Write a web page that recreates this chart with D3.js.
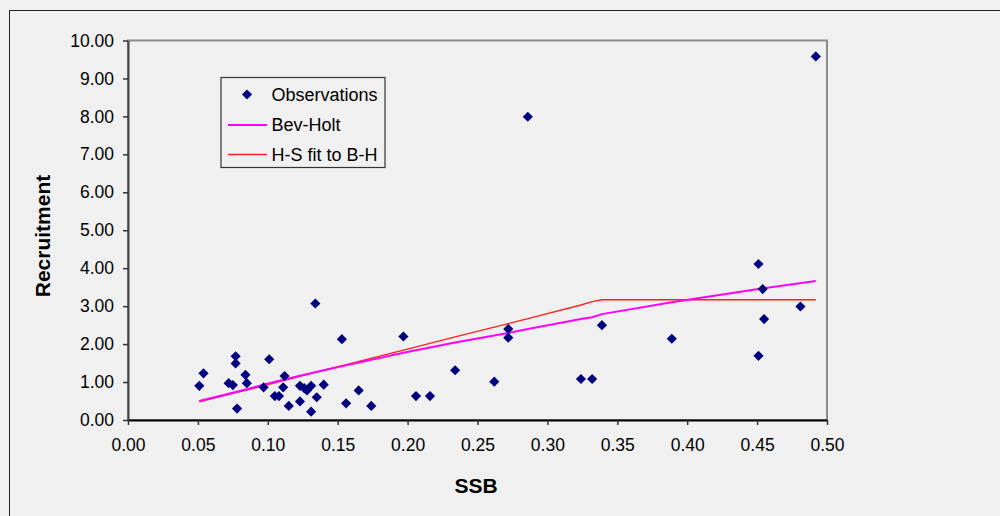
<!DOCTYPE html>
<html>
<head>
<meta charset="UTF-8">
<title>Recruitment vs SSB</title>
<style>
  body { margin: 0; background: #f0f0f0; }
  svg { display: block; font-family: "Liberation Sans", Arial, sans-serif; }
</style>
</head>
<body>
<script src="https://d3js.org/d3.v7.min.js"></script>
<svg width="1000" height="516"></svg>
<script>
    let svg = d3.select("svg"),
        width = +svg.attr("width"),
        height = +svg.attr("height");

    // observations
    let obs_ssb = [0.051, 0.054, 0.072, 0.075, 0.077, 0.077, 0.078, 0.084, 0.085, 0.097,
                   0.101, 0.105, 0.108, 0.112, 0.111, 0.115, 0.123, 0.123, 0.126, 0.128,
                   0.131, 0.131, 0.134, 0.135, 0.140, 0.153, 0.156, 0.165, 0.174, 0.197,
                   0.206, 0.216, 0.234, 0.262, 0.272, 0.272, 0.286, 0.324, 0.332, 0.339,
                   0.389, 0.451, 0.454, 0.455, 0.451, 0.481, 0.492];
    let obs_rec = [0.90, 1.23, 0.97, 0.92, 1.68, 1.49, 0.30, 1.19, 0.97, 0.86,
                   1.60, 0.63, 0.63, 1.16, 0.86, 0.37, 0.49, 0.90, 0.84, 0.78,
                   0.90, 0.22, 3.07, 0.60, 0.93, 2.13, 0.44, 0.78, 0.37, 2.20,
                   0.63, 0.63, 1.31, 1.01, 2.40, 2.17, 7.99, 1.08, 1.08, 2.50,
                   2.14, 4.11, 3.45, 2.66, 1.69, 2.99, 9.58];

    // fitted curves, evaluated at sorted SSB values
    let fit_ssb = [0.051, 0.075, 0.085, 0.101, 0.123, 0.140, 0.156, 0.197, 0.234,
                   0.272, 0.286, 0.324, 0.332, 0.339, 0.389, 0.451, 0.492];
    let bh_rec  = [0.50, 0.72, 0.81, 0.97, 1.17, 1.31, 1.44, 1.77, 2.04,
                   2.29, 2.40, 2.66, 2.71, 2.79, 3.10, 3.45, 3.66];
    let hs_rec  = [0.48, 0.70, 0.79, 0.94, 1.15, 1.31, 1.46, 1.84, 2.19,
                   2.54, 2.67, 3.03, 3.12, 3.17, 3.17, 3.17, 3.17];

    let x_ticks = d3.range(0, 0.501, 0.05);
    let y_ticks = d3.range(0, 10.01, 1);

    let legend_items = [
        { name: "Observations", type: "point" },
        { name: "Bev-Holt", type: "line", color: "#ff00ff", w: 2 },
        { name: "H-S fit to B-H", type: "line", color: "#ff2020", w: 1.4 }
    ];

    let plot = { left: 128, top: 40.5, right: 827, bottom: 420 };

    let x = d3.scaleLinear().domain([0, 0.5]).range([plot.left, plot.right]);
    let y = d3.scaleLinear().domain([0, 10]).range([plot.bottom, plot.top]);

    // chart area border
    svg.append("rect")
        .attr("x", 9.5).attr("y", 10.5)
        .attr("width", width + 20).attr("height", height + 20)
        .attr("fill", "#f0f0f0")
        .attr("stroke", "#222").attr("stroke-width", 1);

    // plot area
    svg.append("rect")
        .attr("x", plot.left).attr("y", plot.top)
        .attr("width", plot.right - plot.left).attr("height", plot.bottom - plot.top)
        .attr("fill", "#f0f0f0")
        .attr("stroke", "#8c8c8c").attr("stroke-width", 2);

    // axes
    let x_axis = svg.append("g")
        .attr("transform", "translate(0," + plot.bottom + ")")
        .call(d3.axisBottom(x).tickValues(x_ticks).tickFormat(d3.format(".2f"))
            .tickSizeInner(5).tickSizeOuter(0).tickPadding(14));
    let y_axis = svg.append("g")
        .attr("transform", "translate(" + plot.left + ",0)")
        .call(d3.axisLeft(y).tickValues(y_ticks).tickFormat(d3.format(".2f"))
            .tickSizeInner(5).tickSizeOuter(0).tickPadding(9));

    [x_axis, y_axis].forEach(a => {
        a.select(".domain").attr("stroke", "#000").attr("stroke-width", 2);
        a.selectAll(".tick line").attr("stroke", "#333").attr("stroke-width", 1.5);
        a.selectAll(".tick text")
            .attr("fill", "#000")
            .style("font-size", "17.5px")
            .style("font-family", "'Liberation Sans', Arial, sans-serif");
    });
    y_axis.select(".domain").attr("stroke", "#444");

    // axis titles
    svg.append("text")
        .attr("x", 476).attr("y", 493)
        .attr("text-anchor", "middle")
        .style("font-size", "21px").style("font-weight", "bold")
        .text("SSB");
    svg.append("text")
        .attr("transform", "translate(50,236) rotate(-90)")
        .attr("text-anchor", "middle")
        .style("font-size", "21px").style("font-weight", "bold")
        .text("Recruitment");

    // fitted lines
    let fit_line = d3.line().x((d, i) => x(fit_ssb[i])).y(d => y(d));
    svg.append("path")
        .attr("d", fit_line(hs_rec))
        .attr("fill", "none").attr("stroke", "#ff2020").attr("stroke-width", 1.4);
    svg.append("path")
        .attr("d", fit_line(bh_rec))
        .attr("fill", "none").attr("stroke", "#ff00ff").attr("stroke-width", 2);

    // observations
    let diamond = d3.symbol().type(d3.symbolDiamond2).size(66);
    svg.append("g")
        .selectAll("path")
        .data(obs_ssb)
        .enter().append("path")
        .attr("d", diamond)
        .attr("transform", (d, i) => "translate(" + x(d) + "," + y(obs_rec[i]) + ")")
        .attr("fill", "#000080");

    // legend
    let lg = svg.append("g");
    lg.append("rect")
        .attr("x", 221).attr("y", 77.5).attr("width", 164).attr("height", 90)
        .attr("fill", "#f0f0f0").attr("stroke", "#333").attr("stroke-width", 1.2);
    let row_y = [94.5, 125, 154.5];
    legend_items.forEach((item, i) => {
        if (item.type === "point") {
            lg.append("path")
                .attr("d", diamond)
                .attr("transform", "translate(247," + row_y[i] + ")")
                .attr("fill", "#000080");
        } else {
            lg.append("line")
                .attr("x1", 228).attr("x2", 267)
                .attr("y1", row_y[i]).attr("y2", row_y[i])
                .attr("stroke", item.color).attr("stroke-width", item.w);
        }
        lg.append("text")
            .attr("x", 271.5).attr("y", row_y[i])
            .attr("dy", "0.35em")
            .style("font-size", "18px")
            .text(item.name);
    });
</script>
</body>
</html>
